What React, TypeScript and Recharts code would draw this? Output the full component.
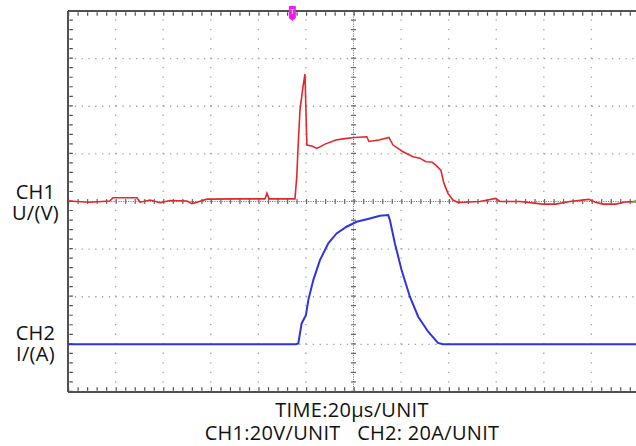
import React from 'react';
import { LineChart, Line, XAxis, YAxis, ReferenceLine, ReferenceDot } from 'recharts';

// Time axis in microseconds (20 µs per division, 12 divisions)
const timeTicks = [0, 20, 40, 60, 80, 100, 120, 140, 160, 180, 200, 220, 240];
// CH1 axis in volts (20 V per division, 8 divisions)
const voltTicks = [-80, -60, -40, -20, 0, 20, 40, 60, 80];

// CH1 voltage trace
const ch1Time = [0, 9.2, 17.6, 18.9, 29.0, 30.3, 34.5, 38.7, 42.9, 50.0, 52.1, 54.2, 58.4, 72.3, 82.8, 83.6, 84.5, 95.4, 96.2, 96.6, 97.5, 98.7, 99.6, 100.0, 100.4, 102.5, 104.6, 108.0, 112.6, 116.4, 120.2, 125.6, 126.5, 130.7, 134.9, 136.6, 140.8, 145.0, 147.9, 150.4, 152.9, 154.6, 156.7, 158.0, 159.7, 161.8, 163.9, 173.1, 179.8, 181.5, 189.9, 199.6, 205.0, 210.9, 218.9, 221.4, 224.8, 230.3, 234.0, 240];
const ch1Volt = [0.2, -0.3, 0.2, 1.6, 1.6, -0.3, 0.6, -0.5, 0.4, 0.2, -0.9, -0.3, 1.0, 1.1, 1.1, 3.5, 1.1, 1.1, 11.1, 20.8, 38.4, 47.6, 53.5, 38.4, 23.7, 23.3, 22.3, 24.1, 25.8, 26.4, 26.9, 27.2, 25.2, 25.8, 26.9, 23.7, 20.9, 18.8, 18.2, 16.7, 16.6, 15.3, 13.2, 7.7, 3.4, 0.6, -0.4, 0, 1.3, 0, 0, -1.1, -1.1, 0, 0.9, -0.2, -1.1, -1.1, -0.2, 0];

// CH2 current trace
const ch2Time = [0, 95.8, 96.8, 98.2, 100.0, 101.0, 103.1, 105.9, 109.4, 112.9, 117.1, 121.3, 126.9, 131.1, 134.6, 135.3, 137.4, 140.2, 143.7, 147.2, 151.4, 155.5, 157.6, 240];
const ch2Amp = [0.1, 0.1, 0.4, 8.8, 12.3, 18.6, 27.0, 35.4, 42.4, 46.6, 49.4, 51.5, 52.9, 54.0, 54.3, 52.2, 42.4, 31.2, 20.0, 11.6, 5.3, 0.6, 0.1, 0.1];

const triggerTime = 94.3;

const ch1Data = ch1Time.map((t, i) => ({ t, v: ch1Volt[i] }));
const ch2Data = ch2Time.map((t, i) => ({ t, a: ch2Amp[i] }));

const FONT = "'Open Sans', 'DejaVu Sans', sans-serif";

const TriggerShape = (props: any) => {
  const { cx, cy } = props;
  const x0 = cx - 3.5;
  const x1 = cx + 3.5;
  const yTop = cy - 5;
  const yBot = cy + 10;
  return (
    <g>
      <path d={`M${x0},${yTop} L${x1},${yTop} L${x1},${yBot - 3} L${cx},${yBot} L${x0},${yBot - 3} Z`} fill="#f01cf0" />
      <text x={cx} y={cy + 3} fontSize={7} fill="#ffffff" textAnchor="middle" fontFamily={FONT}>T</text>
    </g>
  );
};

const GroundShape = (props: any) => {
  const { cx, cy } = props;
  return <path d={`M${cx - 2},${cy} L${cx + 5},${cy - 4} L${cx + 5},${cy + 4} Z`} fill="#30d050" />;
};

const labelStyle: React.CSSProperties = {
  position: 'absolute',
  fontFamily: FONT,
  fontSize: 20,
  letterSpacing: 0.3,
  color: '#111',
  whiteSpace: 'pre',
  textAlign: 'center',
};

export default function App() {
  const innerV = voltTicks.filter((v) => v !== 0 && v !== 80 && v !== -80);
  const innerT = timeTicks.filter((t) => t !== 0 && t !== 120 && t !== 240);
  return (
    <div style={{ position: 'absolute', left: 0, top: 0, width: 636, height: 446, overflow: 'hidden', background: '#fff' }}>
      <LineChart width={640} height={446} margin={{ top: 11, right: 1, bottom: 54, left: 68 }}>
        <XAxis type="number" dataKey="t" domain={[0, 240]} ticks={timeTicks} hide allowDataOverflow />
        <YAxis yAxisId="v" type="number" domain={[-80, 80]} ticks={voltTicks} hide allowDataOverflow />
        <YAxis yAxisId="a" type="number" domain={[-20, 140]} hide allowDataOverflow />

        {innerT.map((t) => (
          <ReferenceLine key={`gx${t}`} x={t} yAxisId="v" stroke="#a0a0a0" strokeWidth={1.3} strokeDasharray="1.3 8.22" />
        ))}
        {innerV.map((v) => (
          <ReferenceLine key={`gy${v}`} y={v} yAxisId="v" stroke="#a0a0a0" strokeWidth={1.3} strokeDasharray="1.3 5.5" />
        ))}

        {/* centre lines with minor ticks */}
        <ReferenceLine y={0} yAxisId="v" stroke="#808080" strokeWidth={1} strokeDasharray="1.2 1.2" />
        <ReferenceLine y={0} yAxisId="v" stroke="#6a6a6a" strokeWidth={5} strokeDasharray="1.2 8.32" />
        <ReferenceLine x={120} yAxisId="v" stroke="#808080" strokeWidth={1} strokeDasharray="1.2 1.2" />
        <ReferenceLine x={120} yAxisId="v" stroke="#6a6a6a" strokeWidth={5} strokeDasharray="1.2 8.32" />

        {/* frame */}
        <ReferenceLine x={0} yAxisId="v" stroke="#505050" strokeWidth={2} />
        <ReferenceLine x={1.3} yAxisId="v" stroke="#505050" strokeWidth={3.5} strokeDasharray="1.2 8.32" />
        <ReferenceLine y={80} yAxisId="v" stroke="#505050" strokeWidth={2} />
        <ReferenceLine y={78.7} yAxisId="v" stroke="#505050" strokeWidth={3.5} strokeDasharray="1.2 8.32" />
        <ReferenceLine y={-80} yAxisId="v" stroke="#505050" strokeWidth={2} />
        <ReferenceLine y={-78.7} yAxisId="v" stroke="#505050" strokeWidth={3.5} strokeDasharray="1.2 8.32" />

        <Line data={ch2Data} yAxisId="a" dataKey="a" type="linear" stroke="#2f35dc" strokeWidth={2} dot={false} isAnimationActive={false} />
        <Line data={ch1Data} yAxisId="v" dataKey="v" type="linear" stroke="#e3262b" strokeWidth={1.6} dot={false} isAnimationActive={false} />

        <ReferenceDot x={triggerTime} y={80} yAxisId="v" ifOverflow="visible" shape={TriggerShape} />
        <ReferenceDot x={238.2} y={0} yAxisId="v" ifOverflow="visible" shape={GroundShape} />
      </LineChart>

      <div style={{ ...labelStyle, left: 0, width: 71, lineHeight: '21px', top: 180.5 }}>{'CH1\nU/(V)'}</div>
      <div style={{ ...labelStyle, left: 0, width: 71, lineHeight: '21px', top: 321.5 }}>{'CH2\nI/(A)'}</div>
      <div style={{ ...labelStyle, left: 0, width: 704, lineHeight: '23px', top: 397.5 }}>{'TIME:20μs/UNIT\nCH1:20V/UNIT   CH2: 20A/UNIT'}</div>
    </div>
  );
}
